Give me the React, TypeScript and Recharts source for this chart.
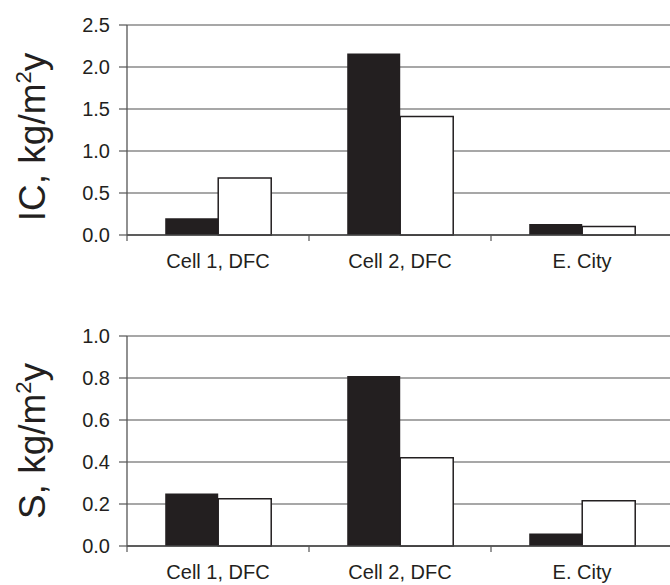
import React from "react";
import { BarChart, Bar, XAxis, YAxis, CartesianGrid } from "recharts";

const categories = ["Cell 1, DFC", "Cell 2, DFC", "E. City"];
const icBlack = [0.2, 2.16, 0.13];
const icWhite = [0.68, 1.41, 0.1];
const sBlack = [0.25, 0.81, 0.06];
const sWhite = [0.225, 0.42, 0.215];
const icTicks = [0, 0.5, 1.0, 1.5, 2.0, 2.5];
const sTicks = [0, 0.2, 0.4, 0.6, 0.8, 1.0];

const INK = "#231f20";
const FONT = "'Liberation Sans', Arial, sans-serif";
const CHART_W = 673;
const AXIS_W = 127;
const BAND = (CHART_W - AXIS_W) / categories.length;

const icData = categories.map((c, i) => ({ name: c, black: icBlack[i], white: icWhite[i] }));
const sData = categories.map((c, i) => ({ name: c, black: sBlack[i], white: sWhite[i] }));

// tick mark sits on the category boundary, label in the middle
const CategoryTick = (props: any) => {
  const { x, y, payload } = props;
  const bx = x - BAND / 2;
  const ay = y - 8; // axis line position
  return (
    <g>
      <line x1={bx} y1={ay} x2={bx} y2={ay + 6} stroke="#555" strokeWidth={1.2} />
      <text x={x} y={ay + 33} textAnchor="middle" fontFamily={FONT} fontSize={20} fill={INK}>
        {payload.value}
      </text>
    </g>
  );
};

const makeTitle = (prefix: string, shift: number) => (props: any) => {
  const { viewBox } = props;
  const cy = viewBox.y + viewBox.height / 2 + shift;
  const cx = 45;
  return (
    <text
      transform={`translate(${cx},${cy}) rotate(-90)`}
      textAnchor="middle"
      fontFamily={FONT}
      fontSize={37}
      fill={INK}
    >
      {prefix}
      <tspan dy={-14} fontSize={22}>2</tspan>
      <tspan dy={14}>y</tspan>
    </text>
  );
};

function Panel({ data, ticks, max, fmt, title, shift, height, top, xh }: any) {
  return (
    <BarChart
      width={CHART_W}
      height={height}
      data={data}
      margin={{ top, right: 0, left: 0, bottom: 0 }}
      barCategoryGap="21%"
      barGap={0}
    >
      <CartesianGrid vertical={false} stroke="#8a8a8a" strokeWidth={1.3} />
      <XAxis
        dataKey="name"
        height={xh}
        axisLine={{ stroke: "#444", strokeWidth: 1.3 }}
        tickLine={false}
        tick={<CategoryTick />}
        interval={0}
      />
      <YAxis
        width={AXIS_W}
        domain={[0, max]}
        ticks={ticks}
        tickFormatter={fmt}
        axisLine={{ stroke: "#555", strokeWidth: 1.3 }}
        tickLine={{ stroke: "#555", strokeWidth: 1.2 }}
        tickSize={8}
        tickMargin={9}
        tick={{ fontFamily: FONT, fontSize: 20, fill: INK }}
        label={makeTitle(title, shift)}
      />
      <Bar dataKey="black" fill={INK} isAnimationActive={false} />
      <Bar dataKey="white" fill="#ffffff" stroke={INK} strokeWidth={1.5} isAnimationActive={false} />
    </BarChart>
  );
}

export default function App() {
  return (
    <div style={{ position: "absolute", left: 0, top: 0, width: 670, height: 585, overflow: "hidden", background: "#fff" }}>
      <div style={{ position: "absolute", left: 0, top: 0 }}>
        <Panel
          data={icData}
          ticks={icTicks}
          max={2.5}
          fmt={(v: number) => v.toFixed(1)}
          title="IC, kg/m"
          shift={7}
          height={290}
          top={25}
          xh={55}
        />
      </div>
      <div style={{ position: "absolute", left: 0, top: 310 }}>
        <Panel
          data={sData}
          ticks={sTicks}
          max={1.0}
          fmt={(v: number) => v.toFixed(1)}
          title="S, kg/m"
          shift={0}
          height={275}
          top={26}
          xh={39}
        />
      </div>
    </div>
  );
}
